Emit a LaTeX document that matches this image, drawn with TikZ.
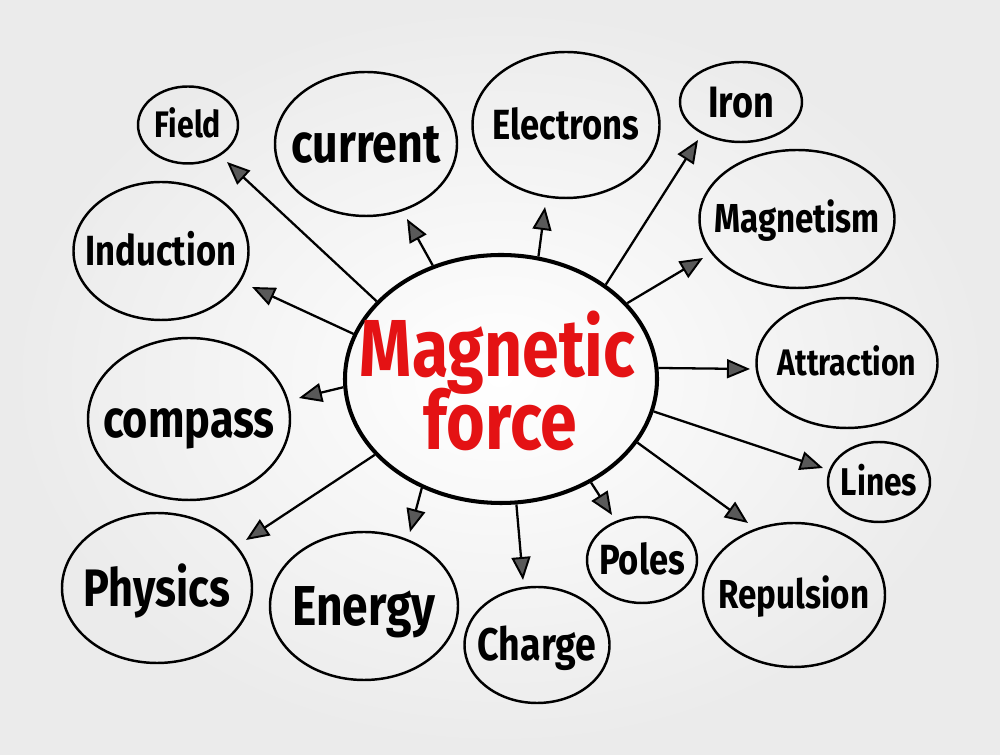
\documentclass[tikz,border=0pt]{standalone}
\usepackage{fontspec}
\setmainfont{Fira Sans}[FakeStretch=0.82]
\usetikzlibrary{shapes.geometric,arrows.meta}
\definecolor{mfred}{RGB}{228,18,20}
\tikzset{
  topic/.style={ellipse, draw, line width=1.4pt, inner sep=0pt},
  word/.style={font=\bfseries\fontsize{#1}{#1}\selectfont, text height=0.8*#1pt, text depth=0.11*#1pt, inner sep=0pt},
  branch/.style={line width=1.3pt, -{Triangle[length=0.46cm, width=0.38cm, fill=black!65, line width=1.1pt]}},
}
\begin{document}
\begin{tikzpicture}
\useasboundingbox (0,0) rectangle (20,15.1);
\shade[inner color=white, outer color=black!8] (0,0) rectangle (20,15.1);

% centre
\node[ellipse, draw, line width=2.3pt, minimum width=6.24cm, minimum height=4.96cm] (mf) at (10.02,7.52) {};
\node[font=\bfseries\fontsize{46}{46}\selectfont, text=mfred, anchor=base, inner sep=0pt] (magn) at (9.95,7.56) {Magnetic};
\node[font=\bfseries\fontsize{46}{46}\selectfont, text=mfred, anchor=base, inner sep=0pt] (force) at (10.01,6.10) {force};

% topics round the centre
\node[topic, minimum width=2.00cm, minimum height=1.54cm] (field) at (3.76,12.60) {};
\node[topic, minimum width=3.64cm, minimum height=2.88cm] (current) at (7.32,12.22) {};
\node[topic, minimum width=3.74cm, minimum height=2.92cm] (electrons) at (11.32,12.60) {};
\node[topic, minimum width=2.44cm, minimum height=1.60cm] (iron) at (14.82,13.06) {};
\node[topic, minimum width=3.90cm, minimum height=2.76cm] (magnetism) at (15.94,10.72) {};
\node[topic, minimum width=3.50cm, minimum height=2.76cm] (induction) at (3.22,10.08) {};
\node[topic, minimum width=3.62cm, minimum height=2.60cm] (attraction) at (16.94,7.84) {};
\node[topic, minimum width=4.04cm, minimum height=3.24cm] (compass) at (3.78,6.72) {};
\node[topic, minimum width=2.04cm, minimum height=1.60cm] (lines) at (17.58,5.46) {};
\node[topic, minimum width=3.80cm, minimum height=3.00cm] (physics) at (3.14,3.34) {};
\node[topic, minimum width=3.76cm, minimum height=2.96cm] (energy) at (7.28,2.98) {};
\node[topic, minimum width=2.20cm, minimum height=1.72cm] (poles) at (12.84,3.90) {};
\node[topic, minimum width=2.90cm, minimum height=2.32cm] (charge) at (10.74,2.20) {};
\node[topic, minimum width=3.64cm, minimum height=2.88cm] (repulsion) at (15.88,3.20) {};

\node[word=21] (fieldtext) at (field) {Field};
\node[word=31] (currenttext) at (current) {current};
\node[word=24] (electronstext) at (electrons) {Electrons};
\node[word=25] (irontext) at (iron) {Iron};
\node[word=23] (magnetismtext) at (magnetism) {Magnetism};
\node[word=24] (inductiontext) at (induction) {Induction};
\node[word=21] (attractiontext) at (attraction) {Attraction};
\node[word=30] (compasstext) at (compass) {compass};
\node[word=22] (linestext) at (lines) {Lines};
\node[word=30] (physicstext) at (physics) {Physics};
\node[word=32] (energytext) at (energy) {Energy};
\node[word=24] (polestext) at (poles) {Poles};
\node[word=26] (chargetext) at (charge) {Charge};
\node[word=23] (repulsiontext) at (repulsion) {Repulsion};

% arrow tips stop short of the topics
\coordinate (tfield) at (4.54,11.86);
\coordinate (tinduction) at (5.04,9.36);
\coordinate (tcurrent) at (8.14,10.72);
\coordinate (telectrons) at (10.90,10.96);
\coordinate (tiron) at (13.96,12.30);
\coordinate (tmagnetism) at (14.06,9.94);
\coordinate (tattraction) at (15.00,7.72);
\coordinate (tlines) at (16.46,5.74);
\coordinate (trepulsion) at (14.96,4.64);
\coordinate (tpoles) at (12.24,4.80);
\coordinate (tcharge) at (10.46,3.50);
\coordinate (tenergy) at (8.20,4.46);
\coordinate (tphysics) at (4.92,4.30);
\coordinate (tcompass) at (5.98,7.14);

\draw[branch] (mf.148) -- (tfield);
\draw[branch] (mf.163) -- (tinduction);
\draw[branch] (mf.121) -- (tcurrent);
\draw[branch] (mf.73) -- (telectrons);
\draw[branch] (mf.42) -- (tiron);
\draw[branch] (mf.31) -- (tmagnetism);
\draw[branch] (mf.4) -- (tattraction);
\draw[branch] (mf.-12) -- (tlines);
\draw[branch] (mf.-25) -- (trepulsion);
\draw[branch] (mf.-49) -- (tpoles);
\draw[branch] (mf.-83) -- (tcharge);
\draw[branch] (mf.234) -- (tenergy);
\draw[branch] (mf.211) -- (tphysics);
\draw[branch] (mf.183) -- (tcompass);
\end{tikzpicture}
\end{document}
